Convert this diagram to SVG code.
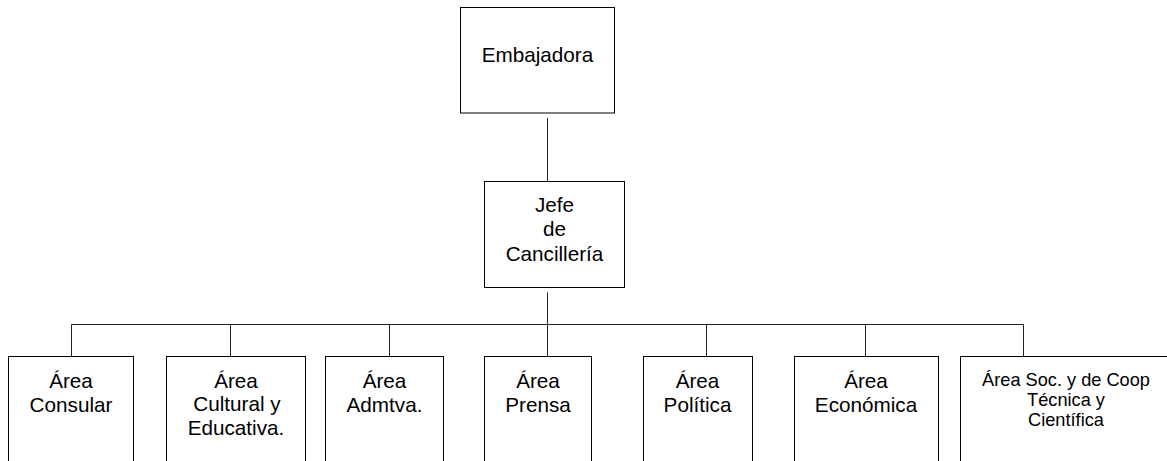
<svg xmlns="http://www.w3.org/2000/svg" width="1167" height="461" viewBox="0 0 1167 461">
<style>
.box{fill:#fff;stroke:#000;stroke-width:1}
.t{font-family:"Liberation Sans",Arial,sans-serif;font-size:20.7px;fill:#000;text-anchor:middle}
.s{font-family:"Liberation Sans",Arial,sans-serif;font-size:18.2px;fill:#000;text-anchor:middle}
.c{stroke:#222;stroke-width:1;fill:none}
</style>
<rect width="1167" height="461" fill="#fff"/>
<g id="connectors">
<line class="c" x1="547.5" y1="118" x2="547.5" y2="181.5"/>
<line class="c" x1="547.5" y1="292.5" x2="547.5" y2="324.5"/>
<line class="c" x1="71.5" y1="324.5" x2="1023.5" y2="324.5"/>
<line class="c" x1="71.5" y1="324.5" x2="71.5" y2="356.5"/>
<line class="c" x1="230.5" y1="324.5" x2="230.5" y2="356.5"/>
<line class="c" x1="389.5" y1="324.5" x2="389.5" y2="356.5"/>
<line class="c" x1="547.5" y1="324.5" x2="547.5" y2="356.5"/>
<line class="c" x1="706.5" y1="324.5" x2="706.5" y2="356.5"/>
<line class="c" x1="865.5" y1="324.5" x2="865.5" y2="356.5"/>
<line class="c" x1="1023.5" y1="324.5" x2="1023.5" y2="356.5"/>
</g>
<g id="embajadora">
<rect class="box" x="460.5" y="7.5" width="154" height="105.5"/>
<text class="t" x="537.5" y="62.3">Embajadora</text>
</g>
<g id="jefe">
<rect class="box" x="484.5" y="181.5" width="140" height="106"/>
<text class="t" x="554.5" y="212">Jefe</text>
<text class="t" x="554.5" y="236">de</text>
<text class="t" x="554.5" y="260.5">Cancillería</text>
</g>
<g id="consular">
<rect class="box" x="8.5" y="356.5" width="125" height="120"/>
<text class="t" x="71" y="387.7">Área</text>
<text class="t" x="71" y="411.5">Consular</text>
</g>
<g id="cultural">
<rect class="box" x="166.5" y="356.5" width="139" height="120"/>
<text class="t" x="236" y="387.7">Área</text>
<text class="t" x="237" y="411.2">Cultural y</text>
<text class="t" x="236" y="434.5">Educativa.</text>
</g>
<g id="admtva">
<rect class="box" x="325.5" y="356.5" width="118" height="120"/>
<text class="t" x="384.5" y="387.7">Área</text>
<text class="t" x="384.5" y="411.5">Admtva.</text>
</g>
<g id="prensa">
<rect class="box" x="484.5" y="356.5" width="107" height="120"/>
<text class="t" x="538" y="387.7">Área</text>
<text class="t" x="538" y="411.5">Prensa</text>
</g>
<g id="politica">
<rect class="box" x="643.5" y="356.5" width="109" height="120"/>
<text class="t" x="697.5" y="387.7">Área</text>
<text class="t" x="697.5" y="411.5">Política</text>
</g>
<g id="economica">
<rect class="box" x="794.5" y="356.5" width="144" height="120"/>
<text class="t" x="866" y="387.7">Área</text>
<text class="t" x="866" y="411.5">Económica</text>
</g>
<g id="soc">
<rect class="box" x="960.5" y="356.5" width="212" height="120"/>
<text class="s" x="1066" y="385.8">Área Soc. y de Coop</text>
<text class="s" x="1066" y="405.8">Técnica y</text>
<text class="s" x="1066" y="426">Científica</text>
</g>
</svg>
